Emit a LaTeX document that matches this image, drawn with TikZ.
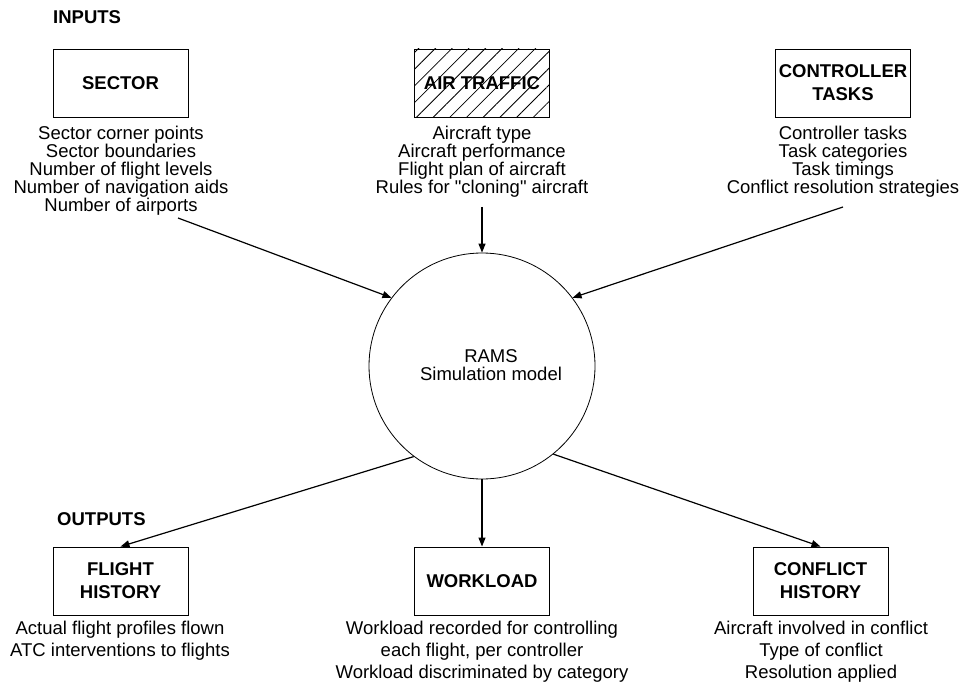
\documentclass[tikz,border=0pt]{standalone}
\usepackage{fontspec}
\setmainfont{Liberation Sans}
\usetikzlibrary{arrows.meta,patterns.meta}
\newcommand\straightdq{\XeTeXglyph\numexpr\XeTeXcharglyph"22\relax\relax}
\begin{document}
\begin{tikzpicture}[x=1pt,y=-1pt,
  every node/.style={font=\fontsize{18.5}{18}\selectfont, inner sep=0pt},
  box/.style={draw, line width=0.9pt, minimum width=135pt, minimum height=68pt, align=center,
    font=\fontsize{18.5}{23}\selectfont\bfseries},
  desc/.style={align=center},
  descb/.style={align=center, font=\fontsize{18.5}{22}\selectfont},
  arr/.style={line width=1.2pt, -{Triangle[length=9pt,width=7pt]}},
  hdr/.style={font=\fontsize{18.5}{18}\selectfont\bfseries, anchor=west}]
\useasboundingbox (0,0) rectangle (968,684);

% headers
\node[hdr] (inputs) at (53,17.5) {INPUTS};
\node[hdr] (outputs) at (57,519.5) {OUTPUTS};

% input boxes
\node[box] (sector) at (120.5,83) {SECTOR};
\node[box, pattern={Lines[angle=45,distance=11.8pt,line width=0.8pt]}] (air) at (482,83) {AIR TRAFFIC};
\node[box] (ctrl) at (843,83) {CONTROLLER\\TASKS};

% input descriptions
\node[desc] (sectord) at (121,171) {Sector corner points\\Sector boundaries\\Number of flight levels\\Number of navigation aids\\Number of airports};
\node[desc] (aird) at (482,162) {Aircraft type\\Aircraft performance\\Flight plan of aircraft\\Rules for \straightdq cloning\straightdq{} aircraft};
\node[desc] (ctrld) at (843,162) {Controller tasks\\Task categories\\Task timings\\Conflict resolution strategies};

% central model
\node[draw, circle, line width=0.8pt, minimum size=226pt] (rams) at (482,366) {};
\node[desc] (ramsl) at (491,365) {RAMS\\Simulation model};

% output boxes
\node[box] (fh) at (120.5,581) {FLIGHT\\HISTORY};
\node[box] (wl) at (482,581) {WORKLOAD};
\node[box] (ch) at (820.5,581) {CONFLICT\\HISTORY};

% output descriptions
\node[descb] (fhd) at (120,641) {Actual flight profiles flown\\ATC interventions to flights};
\node[descb] (wld) at (482,652) {Workload recorded for controlling\\each flight, per controller\\Workload discriminated by category};
\node[descb] (chd) at (821,652) {Aircraft involved in conflict\\Type of conflict\\Resolution applied};

% connector start points
\coordinate (s1) at (178,218);
\coordinate (s2) at (482,207);
\coordinate (s3) at (843,207);

% connectors
\draw[arr] (s1) -- (rams.143);
\draw[arr] (s2) -- (rams.north);
\draw[arr] (s3) -- (rams.37);
\draw[arr] (rams.233) -- (fh.north);
\draw[arr] (rams.south) -- (wl.north);
\draw[arr] (rams.309) -- (ch.north);
\end{tikzpicture}
\end{document}
